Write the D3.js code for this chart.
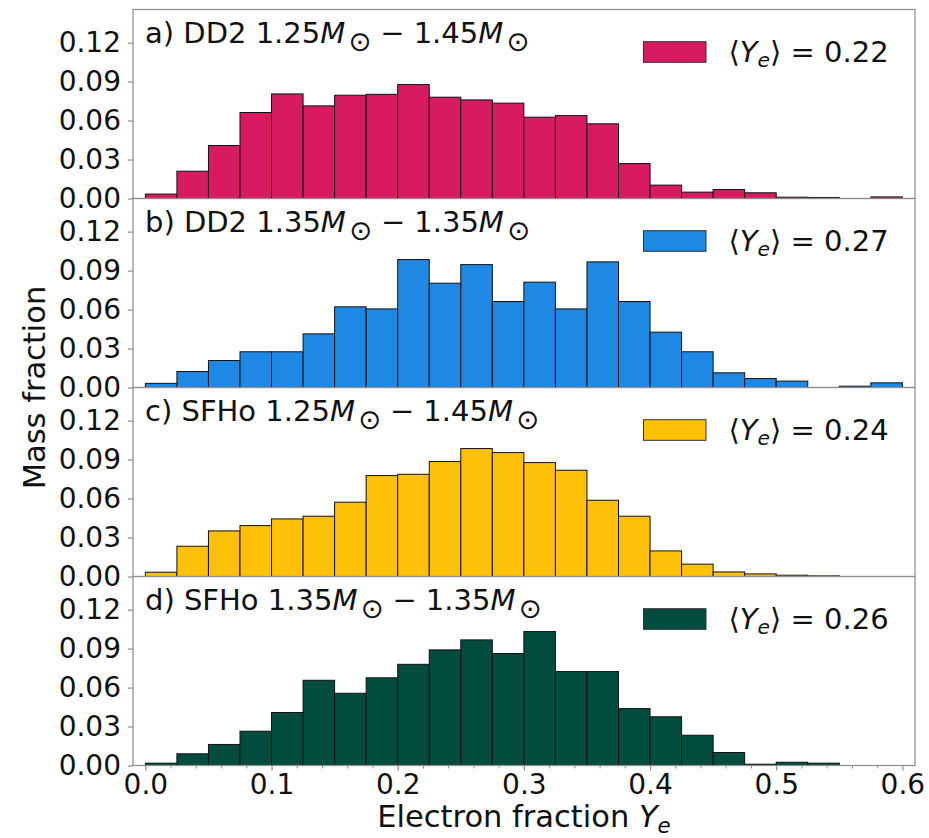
<!DOCTYPE html>
<html>
<head>
<meta charset="utf-8">
<script src="https://cdn.jsdelivr.net/npm/d3@7"></script>
<style>
  html, body { margin: 0; padding: 0; background: #fff; }
  svg { display: block; font-family: "DejaVu Sans", sans-serif; }
</style>
</head>
<body>
<svg id="chart" width="929" height="838"></svg>
<script>
// Histogram bin edges of the electron fraction Y_e
const binEdges = [0.000, 0.025, 0.050, 0.075, 0.100, 0.125, 0.150, 0.175, 0.200, 0.225,
                  0.250, 0.275, 0.300, 0.325, 0.350, 0.375, 0.400, 0.425, 0.450, 0.475,
                  0.500, 0.525, 0.550, 0.575, 0.600];

// Mass fraction per bin, one array per merger model
const dd2_125_145 = [0.0034, 0.0210, 0.0408, 0.0662, 0.0805, 0.0713, 0.0795, 0.0802, 0.0877, 0.0780,
                     0.0759, 0.0734, 0.0626, 0.0638, 0.0575, 0.0269, 0.0103, 0.0049, 0.0069, 0.0044,
                     0.0010, 0.0008, 0.0000, 0.0012];
const dd2_135_135 = [0.0032, 0.0123, 0.0208, 0.0275, 0.0275, 0.0413, 0.0621, 0.0605, 0.0985, 0.0803,
                     0.0946, 0.0662, 0.0811, 0.0605, 0.0967, 0.0662, 0.0426, 0.0275, 0.0113, 0.0069,
                     0.0049, 0.0000, 0.0010, 0.0036];
const sfho_125_145 = [0.0033, 0.0233, 0.0351, 0.0392, 0.0443, 0.0464, 0.0572, 0.0777, 0.0787, 0.0885,
                      0.0985, 0.0954, 0.0877, 0.0818, 0.0587, 0.0464, 0.0197, 0.0095, 0.0035, 0.0020,
                      0.0010, 0.0005, 0.0000, 0.0000];
const sfho_135_135 = [0.0018, 0.0090, 0.0162, 0.0264, 0.0408, 0.0656, 0.0556, 0.0675, 0.0779, 0.0890,
                      0.0967, 0.0862, 0.1031, 0.0723, 0.0723, 0.0438, 0.0375, 0.0233, 0.0100, 0.0010,
                      0.0025, 0.0018, 0.0000, 0.0000];

// Panel labels, mass-weighted mean Y_e and colours
const panelLetters = ["a)", "b)", "c)", "d)"];
const panelEos = ["DD2", "DD2", "SFHo", "SFHo"];
const panelMass1 = ["1.25", "1.35", "1.25", "1.35"];
const panelMass2 = ["1.45", "1.35", "1.45", "1.35"];
const meanYe = ["0.22", "0.27", "0.24", "0.26"];
const panelColors = ["#D81B60", "#1E88E5", "#FFC107", "#004D40"];
const panelSeries = [dd2_125_145, dd2_135_135, sfho_125_145, sfho_135_135];

// Axis ticks
const yTicks = [0.00, 0.03, 0.06, 0.09, 0.12];
const yTickLabels = ["0.00", "0.03", "0.06", "0.09", "0.12"];
const xTicks = [0.0, 0.1, 0.2, 0.3, 0.4, 0.5, 0.6];
const xTickLabels = ["0.0", "0.1", "0.2", "0.3", "0.4", "0.5", "0.6"];
const xMinorTicks = [0.02, 0.04, 0.06, 0.08, 0.12, 0.14, 0.16, 0.18, 0.22, 0.24, 0.26, 0.28,
                     0.32, 0.34, 0.36, 0.38, 0.42, 0.44, 0.46, 0.48, 0.52, 0.54, 0.56, 0.58];

// Layout
const svg = d3.select("#chart");
const tickFont = 28;
const textFont = 29;
const labelFont = 30.5;
const plotLeft = 133, plotRight = 915;
const firstTop = 9.5, panelH = 189;
const spineColor = "#8c8c8c";
const inkColor = "#111";

const x = d3.scaleLinear().domain([-0.0098, 0.61]).range([plotLeft, plotRight]);

// Writes text pieces into a <text> element; each piece may be italic,
// resized, nudged sideways (dx) and placed at a vertical offset (off)
// measured from the line's baseline.
function richText(sel, pieces, baseSize) {
  let cur = 0;
  pieces.forEach(p => {
    const t = sel.append("tspan").text(p.t);
    if (p.it) t.attr("font-style", "italic");
    if (p.size) t.attr("font-size", p.size * baseSize);
    const off = p.off || 0;
    if (off !== cur) { t.attr("dy", off - cur); cur = off; }
    if (p.dx) t.attr("dx", p.dx);
  });
}

panelSeries.forEach((vals, i) => {
  const top = firstTop + i * panelH;
  const y = d3.scaleLinear().domain([0, 0.1455]).range([top + panelH, top]);
  const g = svg.append("g");

  const bins = vals.map((v, k) => ({ x0: binEdges[k], x1: binEdges[k + 1], v }))
                   .filter(d => d.v > 0);

  g.selectAll("rect.bar").data(bins).join("rect")
    .attr("class", "bar")
    .attr("x", d => x(d.x0))
    .attr("width", d => x(d.x1) - x(d.x0))
    .attr("y", d => y(d.v))
    .attr("height", d => y(0) - y(d.v))
    .attr("fill", panelColors[i])
    .attr("stroke", "#111")
    .attr("stroke-width", 1);

  // Frame
  g.append("rect")
    .attr("x", plotLeft).attr("y", top)
    .attr("width", plotRight - plotLeft).attr("height", panelH)
    .attr("fill", "none").attr("stroke", spineColor).attr("stroke-width", 1.2);

  // Y axis
  const yAxis = d3.axisLeft(y).tickValues(yTicks)
    .tickFormat((d, k) => yTickLabels[k]).tickSize(5).tickPadding(7);
  const ya = g.append("g").attr("transform", `translate(${plotLeft},0)`).call(yAxis);
  ya.select(".domain").remove();
  ya.selectAll(".tick line").attr("stroke", spineColor).attr("stroke-width", 1.2);
  ya.selectAll(".tick text").attr("font-size", tickFont).attr("fill", inkColor)
    .attr("font-family", "DejaVu Sans");

  // Panel title: "a) DD2 1.25M⊙ − 1.45M⊙"
  const title = g.append("text")
    .attr("x", 145).attr("y", top + 33.8)
    .attr("font-size", textFont).attr("fill", inkColor);
  richText(title, [
    { t: `${panelLetters[i]} ${panelEos[i]} ${panelMass1[i]}` },
    { t: "M", it: true },
    { t: "\u2299", size: 0.95, off: 8, dx: 3 },
    { t: "\u2212", dx: 9 },
    { t: panelMass2[i], dx: 9 },
    { t: "M", it: true },
    { t: "\u2299", size: 0.95, off: 8, dx: 3 }
  ], textFont);

  // Legend
  g.append("rect")
    .attr("x", 643.5).attr("y", top + 32.2)
    .attr("width", 62.5).attr("height", 20.6)
    .attr("fill", panelColors[i]).attr("stroke", "#333").attr("stroke-width", 1);
  const leg = g.append("text")
    .attr("x", 728.5).attr("y", top + 52.3)
    .attr("font-size", textFont).attr("fill", inkColor);
  richText(leg, [
    { t: "\u27E8" },
    { t: "Y", it: true },
    { t: "e", it: true, size: 0.7, off: 5.5 },
    { t: "\u27E9" },
    { t: ` = ${meanYe[i]}` }
  ], textFont);

  // X axis on the bottom panel only
  if (i === panelSeries.length - 1) {
    const xAxis = d3.axisBottom(x).tickValues(xTicks)
      .tickFormat((d, k) => xTickLabels[k]).tickSize(5).tickPadding(4);
    const xa = g.append("g").attr("transform", `translate(0,${top + panelH})`).call(xAxis);
    xa.select(".domain").remove();
    xa.selectAll(".tick line").attr("stroke", spineColor).attr("stroke-width", 1.2);
    xa.selectAll(".tick text").attr("font-size", tickFont).attr("fill", inkColor)
      .attr("font-family", "DejaVu Sans");
    const xMinor = d3.axisBottom(x).tickValues(xMinorTicks).tickFormat("").tickSize(3);
    const xm = g.append("g").attr("transform", `translate(0,${top + panelH})`).call(xMinor);
    xm.select(".domain").remove();
    xm.selectAll(".tick line").attr("stroke", spineColor).attr("stroke-width", 1);
  }
});

// Axis titles
const xl = svg.append("text")
  .attr("x", (plotLeft + plotRight) / 2).attr("y", 827)
  .attr("text-anchor", "middle").attr("font-size", labelFont).attr("fill", inkColor);
richText(xl, [
  { t: "Electron fraction " },
  { t: "Y", it: true },
  { t: "e", it: true, size: 0.7, off: 6 }
], labelFont);

svg.append("text")
  .attr("transform", `translate(45,${firstTop + 2 * panelH}) rotate(-90)`)
  .attr("text-anchor", "middle").attr("font-size", labelFont).attr("fill", inkColor)
  .text("Mass fraction");
</script>
</body>
</html>
